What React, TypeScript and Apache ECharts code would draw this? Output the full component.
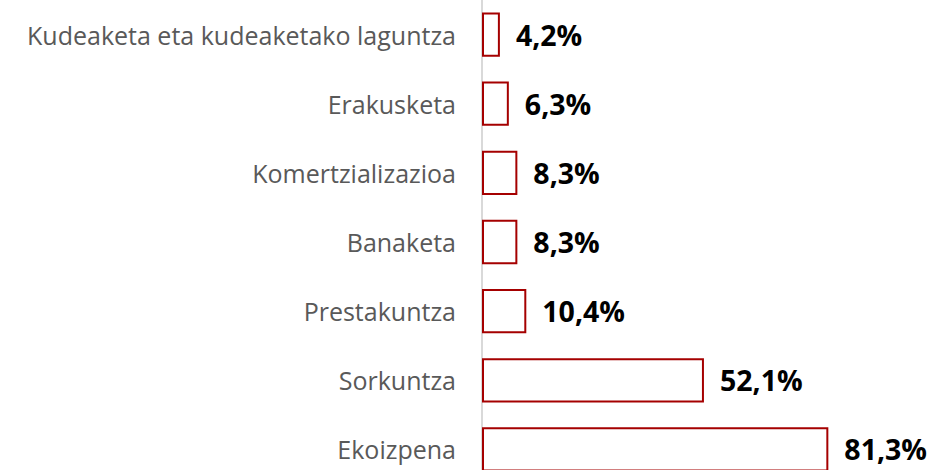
import React, { useEffect, useRef } from "react";
import * as echarts from "echarts";

const categories = [
  "Kudeaketa eta kudeaketako laguntza",
  "Erakusketa",
  "Komertzializazioa",
  "Banaketa",
  "Prestakuntza",
  "Sorkuntza",
  "Ekoizpena",
];
const values = [4.2, 6.3, 8.3, 8.3, 10.4, 52.1, 81.3];

export default function App() {
  const ref = useRef<HTMLDivElement>(null);
  useEffect(() => {
    const chart = echarts.init(ref.current!, undefined, { renderer: "svg" });
    chart.setOption({
      animation: false,
      grid: { left: 482, top: 0, width: 426, height: 484, containLabel: false },
      xAxis: {
        type: "value",
        min: 0,
        max: 100,
        show: false,
      },
      yAxis: {
        type: "category",
        inverse: true,
        data: categories,
        axisLine: { show: true, lineStyle: { color: "#d9d9d9", width: 2 } },
        axisTick: { show: false },
        axisLabel: {
          color: "#595959",
          fontSize: 25,
          fontFamily: "Open Sans",
          margin: 26,
        },
      },
      series: [
        {
          type: "bar",
          data: values,
          barWidth: "64%",
          itemStyle: { color: "#ffffff", borderColor: "#a50000", borderWidth: 2 },
          label: {
            show: true,
            position: "right",
            distance: 16,
            color: "#000000",
            fontSize: 28.5,
            fontWeight: "bold",
            fontFamily: "Open Sans",
            formatter: (p: any) => p.value.toFixed(1).replace(".", ",") + "%",
          },
        },
      ],
    });
    return () => chart.dispose();
  }, []);
  return (
    <div style={{ position: "fixed", left: 0, top: 0, width: 932, height: 470, overflow: "hidden", background: "#fff" }}>
      <div ref={ref} style={{ width: 932, height: 484 }} />
    </div>
  );
}
